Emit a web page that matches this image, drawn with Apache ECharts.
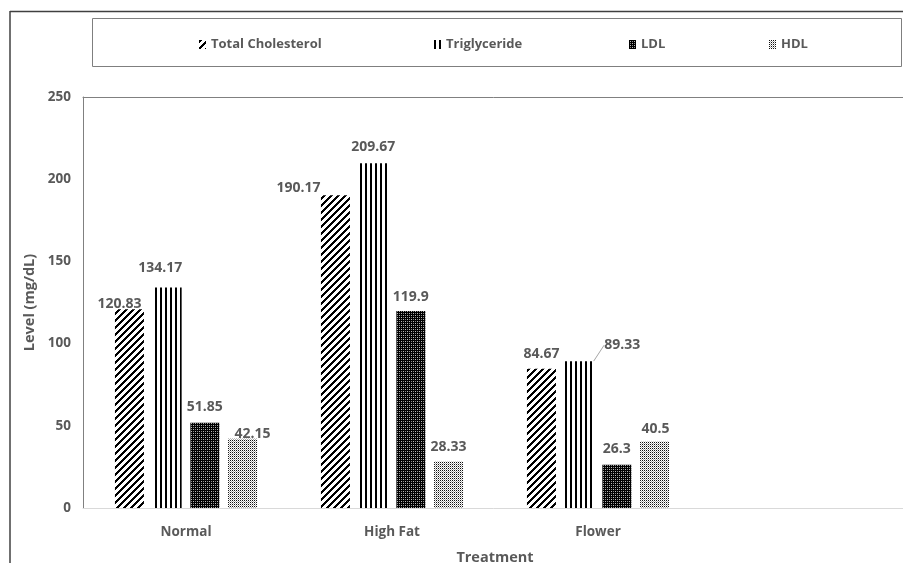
<!DOCTYPE html>
<html>
<head>
<meta charset="utf-8">
<script src="https://cdn.jsdelivr.net/npm/echarts@6/dist/echarts.min.js"></script>
<style>html,body{margin:0;padding:0;background:#fff}#c{width:903px;height:563px}</style>
</head>
<body>
<div id="c"></div>
<script>
// ---- data ----
const categories = ['Normal', 'High Fat', 'Flower'];
const seriesNames = ['Total Cholesterol', 'Triglyceride', 'LDL', 'HDL'];
const totalCholesterol = [120.83, 190.17, 84.67];
const triglyceride = [134.17, 209.67, 89.33];
const ldl = [51.85, 119.9, 26.3];
const hdl = [42.15, 28.33, 40.5];
const yMin = 0, yMax = 250, yStep = 50;

// ---- styling ----
const TXT = '#595959';
const FONT = '"Open Sans", "Noto Sans", sans-serif';

function makePattern(w, h, fn) {
  const c = document.createElement('canvas');
  c.width = w; c.height = h;
  const ctx = c.getContext('2d');
  ctx.fillStyle = '#ffffff';
  ctx.fillRect(0, 0, w, h);
  for (let y = 0; y < h; y++) for (let x = 0; x < w; x++) {
    const col = fn(x, y);
    if (col) { ctx.fillStyle = col; ctx.fillRect(x, y, 1, 1); }
  }
  return { image: c, repeat: 'repeat' };
}
const patterns = [
  makePattern(7, 7, (x, y) => (((x + y) % 7) < 3 ? '#000' : null)),
  makePattern(5, 1, (x) => (x < 2 ? '#000' : null)),
  makePattern(4, 4, (x, y) => ((x % 2 === 1) && (y % 2 === 1) ? ((x + y) % 4 === 2 ? '#bbb' : '#888') : '#000')),
  makePattern(4, 4, (x, y) => ((x % 2 === 0) && (y % 2 === 0) ? '#111' : ((x % 2 === 1) && (y % 2 === 1) ? '#aaa' : null)))
];

// label nudges (pixels) per series per category, mimicking manual label placement
const labelShift = [
  [[-10, 10], [-37, 8], [0, 0]],
  [[-7, -4], [0, -1], [43, -1]],
  [[0, -1], [0, 1], [0, -1]],
  [[10, 10], [0, 1], [1, 3]]
];
const leaderLine = [[false, false, false], [false, false, true], [false, false, false], [false, false, false]];

const values = [totalCholesterol, triglyceride, ldl, hdl];
const legendLeft = [194, 429, 624, 764];

const chart = echarts.init(document.getElementById('c'), null, { renderer: 'canvas' });
chart.setOption({
  animation: false,
  backgroundColor: '#fff',
  textStyle: { fontFamily: FONT },
  graphic: [
    { type: 'line', shape: { x1: 10, y1: 11.5, x2: 903, y2: 11.5 }, style: { stroke: '#404040', lineWidth: 1.5 }, silent: true },
    { type: 'line', shape: { x1: 10, y1: 11, x2: 10, y2: 563 }, style: { stroke: '#404040', lineWidth: 1.5 }, silent: true },
    { type: 'rect', shape: { x: 92.5, y: 18.5, width: 809, height: 48 }, style: { fill: 'none', stroke: '#7f7f7f', lineWidth: 1 }, silent: true, z: -1 }
  ],
  legend: seriesNames.map((n, i) => ({
    data: [n], left: legendLeft[i], top: 33, itemWidth: 7, itemHeight: 9, itemGap: 0,
    icon: 'rect', selectedMode: false,
    textStyle: { color: TXT, fontSize: 13, fontWeight: 'bold', fontFamily: FONT }
  })),
  grid: { left: 83, right: -4, top: 97, bottom: 55, containLabel: false, outerBoundsMode: 'none' },
  xAxis: [{
    type: 'category', data: categories, max: 3,
    axisLine: { show: true, lineStyle: { color: '#d9d9d9', width: 1 } },
    axisTick: { show: false },
    axisLabel: { color: TXT, fontSize: 13.5, fontWeight: 'bold', margin: 17, fontFamily: FONT },
    name: 'Treatment', nameLocation: 'middle', nameGap: 42,
    nameTextStyle: { color: TXT, fontSize: 14.5, fontWeight: 'bold', fontFamily: FONT }
  }, {
    type: 'category', data: categories, max: 3, position: 'top',
    axisLine: { show: true, lineStyle: { color: '#808080', width: 1 } },
    axisTick: { show: false }, axisLabel: { show: false }, splitLine: { show: false }
  }],
  yAxis: {
    type: 'value', min: yMin, max: yMax, interval: yStep,
    axisLine: { show: true, lineStyle: { color: '#808080', width: 1 } },
    axisTick: { show: false },
    splitLine: { show: false },
    axisLabel: { color: TXT, fontSize: 13.5, fontWeight: 'bold', margin: 12, fontFamily: FONT },
    name: 'Level (mg/dL)', nameLocation: 'middle', nameGap: 44,
    nameTextStyle: { color: TXT, fontSize: 14.5, fontWeight: 'bold', fontFamily: FONT }
  },
  series: seriesNames.map((n, si) => ({
    name: n, type: 'bar', barWidth: 29, barGap: '30%',
    itemStyle: { color: patterns[si] },
    data: values[si].map((v, ci) => ({ value: v, labelLine: { show: leaderLine[si][ci] } })),
    label: { show: true, position: 'top', distance: 8, color: TXT, fontSize: 14, fontWeight: 'bold', fontFamily: FONT },
    labelLine: { show: false, lineStyle: { color: '#a6a6a6', width: 1 } },
    labelLayout: (p) => ({ dx: labelShift[si][p.dataIndex][0], dy: labelShift[si][p.dataIndex][1] })
  }))
});
</script>
</body>
</html>
